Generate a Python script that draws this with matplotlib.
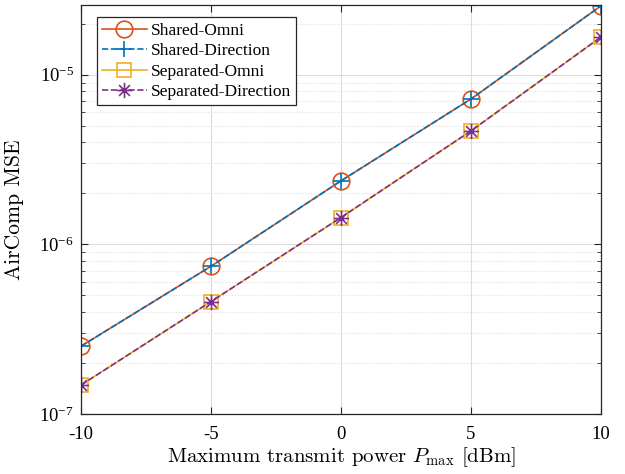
import matplotlib
matplotlib.use("Agg")
import matplotlib.pyplot as plt
from matplotlib.path import Path
from matplotlib.ticker import LogLocator, NullFormatter

plt.rcParams['font.family'] = ['Liberation Serif', 'DejaVu Serif']
plt.rcParams['mathtext.fontset'] = 'cm'

# transmit power in dBm
p_max = [-10, -5, 0, 5, 10]

# AirComp MSE per scheme
shared_omni = [2.51e-7, 7.43e-7, 2.37e-6, 7.2e-6, 2.55e-5]
shared_dir = [2.51e-7, 7.43e-7, 2.37e-6, 7.2e-6, 2.55e-5]
sep_omni = [1.48e-7, 4.6e-7, 1.44e-6, 4.67e-6, 1.67e-5]
sep_dir = [1.48e-7, 4.6e-7, 1.44e-6, 4.67e-6, 1.67e-5]

# matlab style asterisk: plus and cross on top of each other
d = 0.7071
star = Path([(-1, 0), (1, 0), (0, -1), (0, 1), (-d, -d), (d, d), (-d, d), (d, -d)],
            [Path.MOVETO, Path.LINETO] * 4)

fig = plt.figure(figsize=(6.25, 4.74), dpi=100)
ax = fig.add_axes([0.1296, 0.1266, 0.832, 0.8629])

ax.semilogy(p_max, shared_omni, '-o', color=(0.85, 0.325, 0.098), lw=1.2,
            ms=12, mfc='none', mew=1.2, label='Shared-Omni')
ax.semilogy(p_max, shared_dir, '--+', color=(0, 0.447, 0.741), lw=1.2,
            ms=12, mew=1.2, label='Shared-Direction')
ax.semilogy(p_max, sep_omni, '-s', color=(0.929, 0.694, 0.125), lw=1.2,
            ms=10, mfc='none', mew=1.2, label='Separated-Omni')
ax.semilogy(p_max, sep_dir, '--', marker=star, color=(0.494, 0.184, 0.556), lw=1.2,
            ms=11, mew=1.2, label='Separated-Direction')

ax.set_xlim(-10, 10)
ax.set_ylim(1e-7, 2.58e-5)
ax.set_xticks([-10, -5, 0, 5, 10])
ax.set_xticklabels(['-10', '-5', '0', '5', '10'])
ax.yaxis.set_major_locator(LogLocator(base=10))
ax.yaxis.set_minor_locator(LogLocator(base=10, subs=range(2, 10)))
ax.yaxis.set_minor_formatter(NullFormatter())

ax.grid(True, which='major', color='#dcdcdc', lw=0.8)
ax.grid(True, which='minor', axis='y', color='#dcdcdc', lw=0.8, ls=':')
ax.set_axisbelow(True)
ax.tick_params(which='both', direction='in', top=True, right=True,
               labelsize=13.5, color='#262626')
ax.tick_params(which='major', length=5)
ax.tick_params(which='minor', length=3)
ax.tick_params(axis='x', pad=9)
ax.tick_params(axis='y', pad=5)
for s in ax.spines.values():
    s.set_color('#262626')
    s.set_linewidth(0.9)

ax.set_xlabel(r'Maximum transmit power $P_{\max}$ [dBm]', fontsize=15,
              family='cmr10', labelpad=1)
ax.set_ylabel('AirComp MSE', fontsize=15.5, family='cmr10')
ax.yaxis.set_label_coords(-0.11, 0.5)

leg = ax.legend(loc='upper left', bbox_to_anchor=(0.03, 0.97), fontsize=12.5,
                fancybox=False, edgecolor='#262626', framealpha=1,
                handlelength=2.6, borderpad=0.3, labelspacing=0.25,
                handletextpad=0.2, borderaxespad=0)
leg.get_frame().set_linewidth(0.9)

fig.savefig('out.png', dpi=100)
